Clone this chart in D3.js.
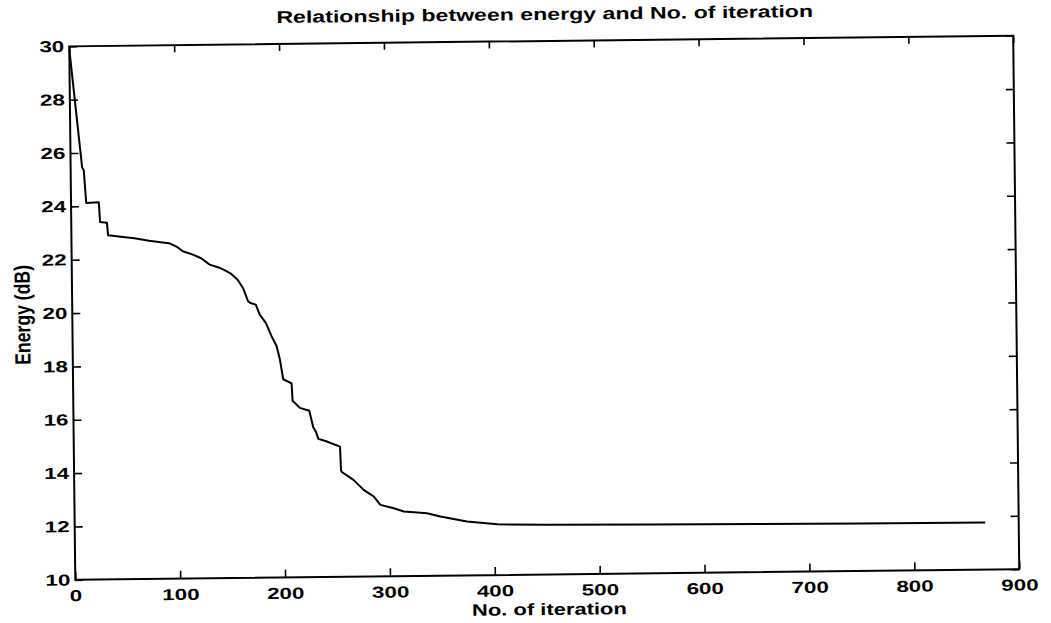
<!DOCTYPE html>
<html><head><meta charset="utf-8">
<script src="https://cdn.jsdelivr.net/npm/d3@7"></script>
<style>
body{margin:0;background:#fff;}
svg{display:block;}
text{font-family:"Liberation Sans",Arial,sans-serif;fill:#000;}
</style>
</head><body>
<svg id="c" width="1051" height="623"></svg>
<script>
// ---- data ----
const iterations = [0, 11, 12.5, 14.5, 26.5, 27.5, 34, 35, 45, 60, 74, 85, 93, 100, 106, 115, 123.5, 131.5, 140, 146, 152, 158, 163, 167.7, 170, 175, 178.7, 184.4, 189.7, 194.4, 197.4, 200.4, 208.3, 209.1, 216, 224.9, 228.5, 231, 233.2, 240, 253.8, 254.5, 255.2, 266.3, 275.8, 285.3, 291.7, 304.4, 314, 336, 348.7, 374, 403, 450, 550, 650, 750, 868];
const energy = [29.9, 25.45, 25.35, 24.12, 24.14, 23.4, 23.37, 22.9, 22.85, 22.78, 22.68, 22.62, 22.58, 22.45, 22.27, 22.15, 22.0, 21.76, 21.65, 21.54, 21.4, 21.18, 20.87, 20.37, 20.3, 20.24, 19.86, 19.55, 19.05, 18.68, 18.18, 17.43, 17.27, 16.62, 16.35, 16.24, 15.62, 15.45, 15.18, 15.1, 14.88, 14.0, 13.93, 13.63, 13.25, 13.0, 12.68, 12.55, 12.42, 12.35, 12.22, 12.02, 11.9, 11.86, 11.83, 11.8, 11.78, 11.76];
const xTicks = [0, 100, 200, 300, 400, 500, 600, 700, 800, 900];
const yTicks = [10, 12, 14, 16, 18, 20, 22, 24, 26, 28, 30];
const titleText = "Relationship between energy and No. of iteration";
const xLabelText = "No. of iteration";
const yLabelText = "Energy (dB)";

// ---- layout ----
const W = 1051, H = 623;
const box = {left: 72.25, right: 1016.25, top: 41, bottom: 574.5};
const svg = d3.select("#c");
svg.append("rect").attr("width", W).attr("height", H).attr("fill", "#fff");
const g = svg.append("g").attr("transform", "rotate(-0.65,544,308)");

const x = d3.scaleLinear().domain([0, 900]).range([box.left, box.right]);
const y = d3.scaleLinear().domain([10, 30]).range([box.bottom, box.top]);

const tickFont = 16, tickSX = 1.4;

function styleAxis(sel) {
  sel.select(".domain").remove();
  sel.selectAll(".tick line").attr("stroke", "#000").attr("stroke-width", 1.6);
  sel.selectAll("text").attr("font-size", tickFont).attr("font-family", null)
     .attr("font-weight", "bold").attr("fill", "#000");
}

// bottom
const gx = g.append("g").attr("transform", `translate(0,${box.bottom})`)
  .call(d3.axisBottom(x).tickValues(xTicks).tickSize(-8).tickPadding(10).tickFormat(d3.format("d")));
styleAxis(gx);
gx.selectAll("text").attr("transform", `scale(${tickSX},1)`);

// left
const gy = g.append("g").attr("transform", `translate(${box.left},0)`)
  .call(d3.axisLeft(y).tickValues(yTicks).tickSize(-8).tickPadding(5).tickFormat(d3.format("d")));
styleAxis(gy);
gy.selectAll("text").attr("x", -5 / tickSX).attr("transform", `scale(${tickSX},1)`);

// top and right (ticks only)
const gt = g.append("g").attr("transform", `translate(0,${box.top})`)
  .call(d3.axisTop(x).tickValues(xTicks).tickSize(-7).tickFormat(""));
styleAxis(gt);
const gr = g.append("g").attr("transform", `translate(${box.right},0)`)
  .call(d3.axisRight(y).tickValues(yTicks).tickSize(-8).tickFormat(""));
styleAxis(gr);

// frame
g.append("rect").attr("x", box.left).attr("y", box.top)
  .attr("width", box.right - box.left).attr("height", box.bottom - box.top)
  .attr("fill", "none").attr("stroke", "#000").attr("stroke-width", 2);

// line
const pts = iterations.map((d, i) => [d, energy[i]]);
g.append("path").datum(pts)
  .attr("fill", "none").attr("stroke", "#000").attr("stroke-width", 2)
  .attr("stroke-linejoin", "round")
  .attr("d", d3.line().x(d => x(d[0])).y(d => y(d[1])));

// title
g.append("text").attr("transform", "translate(548,20) scale(1.36,1)")
  .attr("text-anchor", "middle").attr("font-size", 17).attr("font-weight", "bold")
  .text(titleText);

// x label
g.append("text").attr("transform", "translate(546,615) scale(1.33,1)")
  .attr("text-anchor", "middle").attr("font-size", 16.5).attr("font-weight", "bold")
  .text(xLabelText);

// y label
g.append("text").attr("transform", "translate(30,309) rotate(-90) scale(0.8,1)")
  .attr("text-anchor", "middle").attr("font-size", 22).attr("font-weight", "bold")
  .text(yLabelText);
</script>
</body></html>
